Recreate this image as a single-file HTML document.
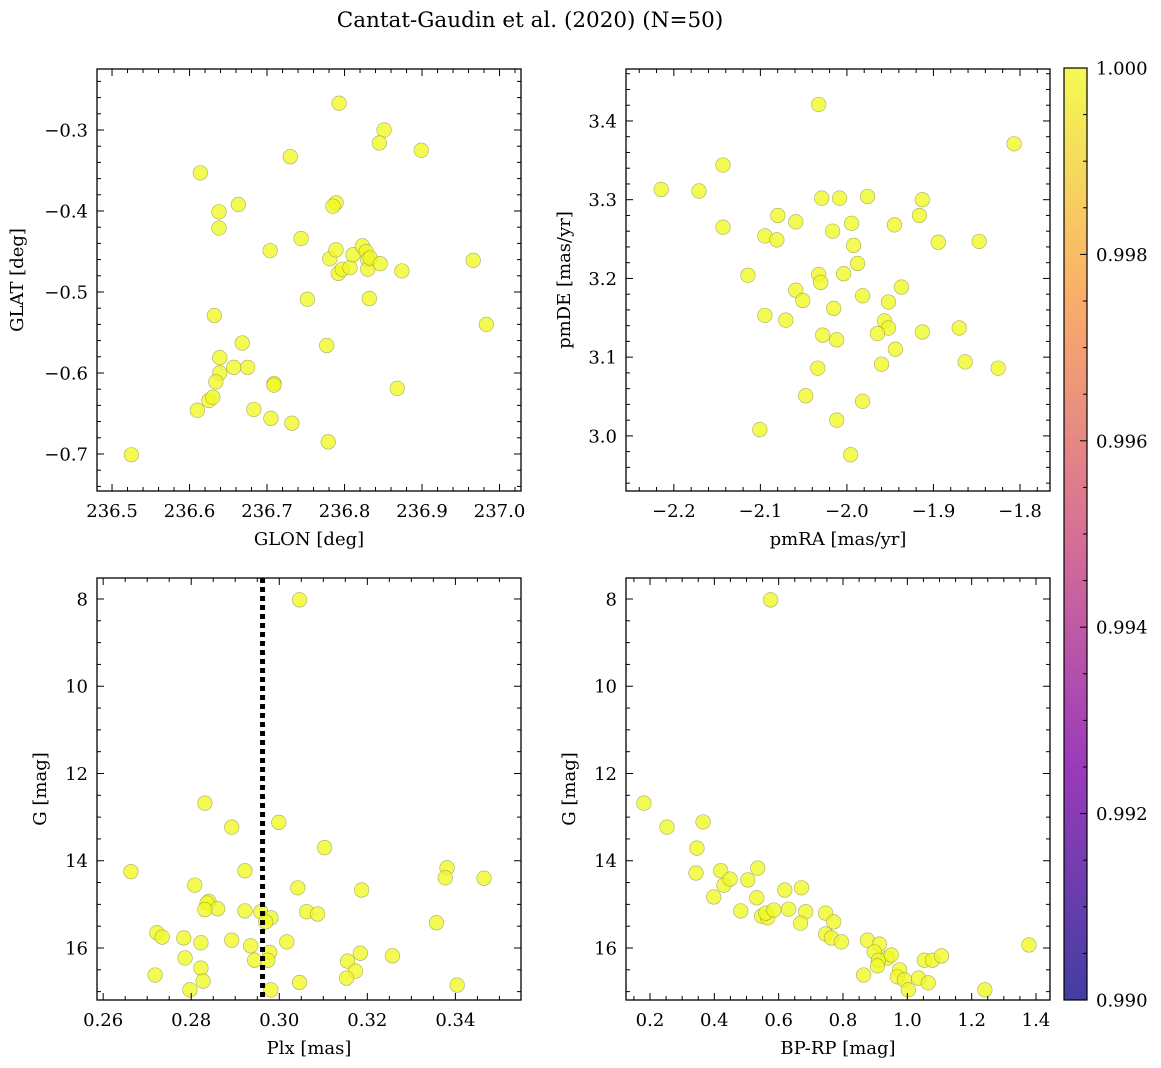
<!DOCTYPE html>
<html><head><meta charset="utf-8">
<style>
html,body{margin:0;padding:0;background:#fff;}
svg{display:block;font-family:"DejaVu Serif","Liberation Serif",serif;}
</style></head>
<body>
<svg id="fig" width="1161" height="1068" viewBox="0 0 1161 1068" xmlns="http://www.w3.org/2000/svg">
<defs>
<linearGradient id="plasma" x1="0" y1="1" x2="0" y2="0">
<stop offset="0" stop-color="#0d0887"/><stop offset="0.25" stop-color="#7e03a8"/>
<stop offset="0.5" stop-color="#cc4778"/><stop offset="0.75" stop-color="#f89540"/>
<stop offset="1" stop-color="#f0f921"/>
</linearGradient>
</defs>
<text x="530" y="27" font-size="21.5" text-anchor="middle">Cantat-Gaudin et al. (2020) (N=50)</text>
<g id="cbar">
<rect x="1064" y="68" width="23" height="932" fill="url(#plasma)" opacity="0.78"/>
<rect x="1064" y="68" width="23" height="932" fill="none" stroke="#000" stroke-width="1.2"/>
</g>
</svg>
<script>
// ---- data ----
const glon=[236.793,236.851,236.845,236.899,236.614,236.730,236.663,236.638,236.638,236.704,236.744,236.789,236.785,236.752,236.781,236.789,236.792,236.797,236.807,236.811,236.823,236.828,236.830,236.830,236.833,236.846,236.832,236.874,236.966,236.983,236.632,236.668,236.639,236.657,236.675,236.639,236.709,236.709,236.634,236.777,236.868,236.610,236.625,236.630,236.683,236.705,236.732,236.779,236.525];
const glat=[-0.267,-0.300,-0.316,-0.325,-0.353,-0.333,-0.392,-0.401,-0.421,-0.449,-0.434,-0.390,-0.394,-0.509,-0.459,-0.448,-0.477,-0.472,-0.470,-0.454,-0.443,-0.450,-0.460,-0.472,-0.458,-0.465,-0.508,-0.474,-0.461,-0.540,-0.529,-0.563,-0.581,-0.593,-0.593,-0.600,-0.613,-0.615,-0.611,-0.566,-0.619,-0.646,-0.634,-0.630,-0.645,-0.656,-0.662,-0.685,-0.701];
const pmra=[-2.0326,-1.8068,-2.2146,-2.1709,-2.1432,-2.1432,-2.0798,-2.0948,-2.0810,-2.0591,-2.0291,-2.0084,-1.9762,-1.9128,-1.9162,-1.9450,-1.9946,-2.0165,-1.9923,-1.8944,-1.8471,-2.1144,-2.0326,-2.0038,-2.0303,-1.9877,-2.0591,-2.0510,-1.9819,-1.9520,-1.9370,-2.0153,-2.0948,-2.0706,-1.9566,-1.9520,-1.9647,-2.0280,-2.0118,-1.9128,-1.8702,-1.9440,-1.9600,-1.8633,-2.0337,-1.8252,-2.0476,-1.9819,-2.0118,-2.1006,-1.9957];
const pmde=[3.421,3.371,3.313,3.311,3.344,3.265,3.280,3.254,3.249,3.272,3.302,3.302,3.304,3.300,3.280,3.268,3.270,3.260,3.242,3.246,3.247,3.204,3.205,3.206,3.195,3.219,3.185,3.172,3.178,3.170,3.189,3.162,3.153,3.147,3.146,3.137,3.130,3.128,3.122,3.132,3.137,3.110,3.091,3.094,3.086,3.086,3.051,3.044,3.020,3.008,2.976];
const plx=[0.3046,0.2831,0.2892,0.2999,0.3103,0.2663,0.2922,0.3381,0.3377,0.3465,0.2808,0.3042,0.3187,0.2840,0.2836,0.2860,0.2831,0.2922,0.2958,0.3062,0.3087,0.2981,0.2969,0.3357,0.2722,0.2734,0.2783,0.2822,0.2892,0.3017,0.2935,0.2978,0.3184,0.3257,0.2786,0.2944,0.2974,0.3155,0.2822,0.3173,0.2718,0.3153,0.2827,0.3046,0.3404,0.2797,0.2981];
const gmagPlx=[8.02,12.68,13.23,13.12,13.70,14.25,14.23,14.16,14.39,14.40,14.56,14.62,14.67,14.93,14.97,15.10,15.12,15.15,15.17,15.17,15.22,15.31,15.40,15.42,15.65,15.75,15.77,15.88,15.82,15.86,15.95,16.10,16.12,16.18,16.23,16.28,16.28,16.30,16.46,16.53,16.62,16.69,16.76,16.79,16.85,16.96,16.96];
const bprp=[0.575,0.181,0.253,0.365,0.346,0.343,0.420,0.535,0.430,0.449,0.504,0.619,0.671,0.398,0.532,0.482,0.547,0.566,0.560,0.585,0.631,0.684,0.746,0.771,0.668,0.746,0.764,0.795,0.876,0.913,0.897,0.938,0.910,0.950,0.907,1.053,1.078,1.106,0.976,1.035,0.969,0.991,1.065,1.003,0.864,1.241,1.378];
const gmagCmd=[8.02,12.68,13.23,13.11,13.71,14.28,14.23,14.17,14.56,14.42,14.44,14.67,14.62,14.83,14.85,15.15,15.27,15.31,15.20,15.13,15.11,15.17,15.20,15.40,15.43,15.68,15.77,15.86,15.82,15.91,16.09,16.23,16.28,16.16,16.41,16.28,16.28,16.18,16.50,16.69,16.66,16.73,16.80,16.96,16.62,16.96,15.93];
const plxMean=0.2962;
const glonTicks=[236.5,236.6,236.7,236.8,236.9,237.0];
const glatTicks=[-0.7,-0.6,-0.5,-0.4,-0.3];
const pmraTicks=[-2.2,-2.1,-2.0,-1.9,-1.8];
const pmdeTicks=[3.0,3.1,3.2,3.3,3.4];
const plxTicks=[0.26,0.28,0.30,0.32,0.34];
const gTicks=[8,10,12,14,16];
const bprpTicks=[0.2,0.4,0.6,0.8,1.0,1.2,1.4];
const cbarTicks=[0.990,0.992,0.994,0.996,0.998,1.000];

const NS='http://www.w3.org/2000/svg';
const svg=document.getElementById('fig');
function mk(tag,attrs,parent){const e=document.createElementNS(NS,tag);for(const k in attrs)e.setAttribute(k,attrs[k]);(parent||svg).appendChild(e);return e;}
function fmt(v,d){let s=v.toFixed(d);return s.replace('-','\u2212');}
const TF=18, LF=18;

function panel(o){
  const g=mk('g',{});
  
  
  const X=v=>o.x0+(v-o.xlim[0])/(o.xlim[1]-o.xlim[0])*(o.x1-o.x0);
  const Y=o.yinv?(v=>o.y0+(v-o.ylim[0])/(o.ylim[1]-o.ylim[0])*(o.y1-o.y0)):(v=>o.y1-(v-o.ylim[0])/(o.ylim[1]-o.ylim[0])*(o.y1-o.y0));
  for(let i=0;i<o.xs.length;i++){
    const c=mk('circle',{cx:X(o.xs[i]),cy:Y(o.ys[i]),r:7.3,fill:'#f0f921','fill-opacity':0.78,stroke:'#8a8a50','stroke-width':0.6,'stroke-opacity':0.7},g);
    
    
  }
  if(o.vline!==undefined){
    const l=mk('line',{x1:X(o.vline),x2:X(o.vline),y1:o.y0,y2:o.y1,stroke:'#000','stroke-width':5,'stroke-dasharray':'5 4'},g);
    
    
  }
  const ax=mk('g',{},g);
  
  
  const lo=Math.min(o.xlim[0],o.xlim[1]),hi=Math.max(o.xlim[0],o.xlim[1]);
  for(let v=Math.ceil(lo/o.xminor-1e-9)*o.xminor;v<=hi+1e-9;v+=o.xminor){
    const x=X(v);const maj=o.xticks.some(t=>Math.abs(t-v)<o.xminor/10);const L=maj?7:4;
    mk('line',{x1:x,x2:x,y1:o.y1,y2:o.y1-L,stroke:'#000','stroke-width':1},ax);
    mk('line',{x1:x,x2:x,y1:o.y0,y2:o.y0+L,stroke:'#000','stroke-width':1},ax);
  }
  for(let v=Math.ceil(Math.min(...o.ylim)/o.yminor-1e-9)*o.yminor;v<=Math.max(...o.ylim)+1e-9;v+=o.yminor){
    const y=Y(v);const maj=o.yticks.some(t=>Math.abs(t-v)<o.yminor/10);const L=maj?7:4;
    mk('line',{x1:o.x0,x2:o.x0+L,y1:y,y2:y,stroke:'#000','stroke-width':1},ax);
    mk('line',{x1:o.x1,x2:o.x1-L,y1:y,y2:y,stroke:'#000','stroke-width':1},ax);
  }
  o.xticks.forEach(t=>{const e=mk('text',{x:X(t),y:o.y1+26,'font-size':TF,'text-anchor':'middle'},ax);e.textContent=fmt(t,o.xd);
    });
  o.yticks.forEach(t=>{const e=mk('text',{x:o.x0-9,y:Y(t)+6.5,'font-size':TF,'text-anchor':'end'},ax);e.textContent=fmt(t,o.yd);
    });
  mk('rect',{x:o.x0,y:o.y0,width:o.x1-o.x0,height:o.y1-o.y0,fill:'none',stroke:'#000','stroke-width':1.3},ax);
  const xl=mk('text',{x:(o.x0+o.x1)/2,y:o.y1+54,'font-size':LF,'text-anchor':'middle'},ax);xl.textContent=o.xlabel;
  
  const yc=(o.y0+o.y1)/2;
  const yl=mk('text',{x:o.ylx,y:yc,'font-size':LF,'text-anchor':'middle',transform:`rotate(-90 ${o.ylx} ${yc})`},ax);yl.textContent=o.ylabel;
  
}

panel({name:'sky-position-panel',x0:97,x1:521,y0:69,y1:491,xlim:[236.4806,237.0277],ylim:[-0.7457,-0.2247],xs:glon,ys:glat,xticks:glonTicks,yticks:glatTicks,xminor:0.02,yminor:0.02,xd:1,yd:1,xlabel:'GLON [deg]',ylabel:'GLAT [deg]',ylx:23});
panel({name:'proper-motion-panel',x0:626,x1:1050,y0:69,y1:491,xlim:[-2.2553,-1.7653],ylim:[2.930,3.466],xs:pmra,ys:pmde,xticks:pmraTicks,yticks:pmdeTicks,xminor:0.02,yminor:0.02,xd:1,yd:1,xlabel:'pmRA [mas/yr]',ylabel:'pmDE [mas/yr]',ylx:570});
panel({name:'parallax-magnitude-panel',x0:97,x1:521,y0:578,y1:1000,xlim:[0.2586,0.3549],ylim:[7.519,17.192],yinv:true,xs:plx,ys:gmagPlx,xticks:plxTicks,yticks:gTicks,xminor:0.005,yminor:0.5,xd:2,yd:0,xlabel:'Plx [mas]',ylabel:'G [mag]',ylx:46,vline:plxMean});
panel({name:'color-magnitude-panel',x0:626,x1:1050,y0:578,y1:1000,xlim:[0.1254,1.4435],ylim:[7.519,17.192],yinv:true,xs:bprp,ys:gmagCmd,xticks:bprpTicks,yticks:gTicks,xminor:0.05,yminor:0.5,xd:1,yd:0,xlabel:'BP-RP [mag]',ylabel:'G [mag]',ylx:575});

const cb=document.getElementById('cbar');
const CY=v=>1000-(v-0.990)/(0.010)*932;
for(let v=0.990;v<=1.0000001;v+=0.0005){
  const maj=cbarTicks.some(t=>Math.abs(t-v)<1e-5);
  mk('line',{x1:1087,x2:1087-(maj?7:4),y1:CY(v),y2:CY(v),stroke:'#000','stroke-width':1},cb);
}
cbarTicks.forEach(t=>{const e=mk('text',{x:1096,y:CY(t)+6.5,'font-size':TF},cb);e.textContent=t.toFixed(3);
  });
</script>
</body></html>
